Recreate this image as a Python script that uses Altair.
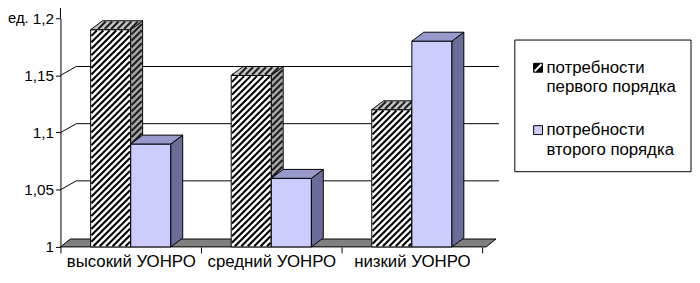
import json
import numpy as np
import pandas as pd
import altair as alt

# ---------------- data ----------------
categories = ["высокий УОНРО", "средний УОНРО", "низкий УОНРО"]
series = ["потребности первого порядка", "потребности второго порядка"]
first_order = [1.19, 1.15, 1.12]
second_order = [1.09, 1.06, 1.18]
y_ticks = [1.0, 1.05, 1.1, 1.15, 1.2]
grid_values = [1.05, 1.1, 1.15]
unit_label = "ед."

# ---------------- layout / style ----------------
W, H = 443, 231
PAD = {"left": 53, "right": 195, "top": 9, "bottom": 27}
PL, PT = 8 + PAD["left"], 8 + PAD["top"]   # plot origin on the page
X0 = -0.5
X1 = X0 + W / 142.0
Y0, Y1 = 1.0, 1.2
PXX = W / (X1 - X0)
PXY = H / (Y1 - Y0)
FONT = "Liberation Sans"
FS_NUM = 15.5
FS_TXT = 17

BAR_W = 40.5 / PXX          # bar width in x units
BDX, BDY = 12.0, 9.0        # bar depth (px)
WDX, WDY = 16.0, 9.0        # wall offset (px)
FDX, FDY = 10.0, 8.0        # floor depth (px)
HATCH_STEP = 6.5
HATCH_W = 2.1

COL_H_FRONT, COL_H_SIDE, COL_H_TOP = "#ffffff", "#a8a8a8", "#c4c4c4"
COL_H_STRIPE_FRONT, COL_H_STRIPE_SIDE = "#000000", "#1e1e1e"
COL_B_FRONT, COL_B_SIDE, COL_B_TOP = "#ccccff", "#6c6c99", "#9999cc"
COL_FLOOR = "#808080"


def to_x(X):
    return X / PXX + X0


def to_y(Y):
    return Y / PXY + Y0


def px_x(x):
    return (x - X0) * PXX


def px_y(y):
    return (y - Y0) * PXY


def hatch(poly, step=HATCH_STEP, trim=1.0):
    xs_ = [p[0] for p in poly]
    ys_ = [p[1] for p in poly]
    cmin, cmax = min(ys_) - max(xs_), max(ys_) - min(xs_)
    segs = []
    for k in range(int(np.floor(cmin / step)) - 1, int(np.ceil(cmax / step)) + 2):
        c = k * step
        pts = []
        n = len(poly)
        for i in range(n):
            ax, ay = poly[i]
            bx, by = poly[(i + 1) % n]
            den = (by - ay) - (bx - ax)
            if abs(den) < 1e-12:
                continue
            u = (c - (ay - ax)) / den
            if -1e-9 <= u <= 1 + 1e-9:
                pts.append(ax + u * (bx - ax))
        if len(pts) < 2:
            continue
        s0, s1 = min(pts), max(pts)
        d = trim / np.sqrt(2)
        s0 += d
        s1 -= d
        if s1 - s0 < 0.3:
            continue
        segs.append((s0, s0 + c, s1, s1 + c))
    return segs


def bar_faces(prefix, vals, left_off, colors):
    front, side, top = [], [], []
    for i, v in enumerate(vals):
        bid = f"{prefix}{i}"
        xl = px_x(i + left_off)
        xr = px_x(i + left_off + BAR_W)
        t = px_y(v)
        front.append({"id": bid, "x": to_x(xl), "x2": to_x(xr), "y": Y0, "y2": v, "fill": colors[0]})
        side.append({"id": bid, "x": to_x(xr), "y": to_y(0), "y2": to_y(t), "fill": colors[1]})
        side.append({"id": bid, "x": to_x(xr + BDX), "y": to_y(BDY), "y2": to_y(t + BDY), "fill": colors[1]})
        top.append({"id": bid, "y": to_y(t), "x": to_x(xl), "x2": to_x(xr), "fill": colors[2]})
        top.append({"id": bid, "y": to_y(t + BDY), "x": to_x(xl + BDX), "x2": to_x(xr + BDX), "fill": colors[2]})
    return pd.DataFrame(front), pd.DataFrame(side), pd.DataFrame(top)


h_front, h_side, h_top = bar_faces("h", first_order, -BAR_W, (COL_H_FRONT, COL_H_SIDE, COL_H_TOP))
b_front, b_side, b_top = bar_faces("b", second_order, 0.0, (COL_B_FRONT, COL_B_SIDE, COL_B_TOP))

# hatch strokes for the first-order bars
stripes = []
for i, v in enumerate(first_order):
    xl = px_x(i - BAR_W)
    xr = px_x(i)
    t = px_y(v)
    faces = [
        ([(xl, 0), (xr, 0), (xr, t), (xl, t)], COL_H_STRIPE_FRONT),
        ([(xr, 0), (xr + BDX, BDY), (xr + BDX, t + BDY), (xr, t)], COL_H_STRIPE_SIDE),
        ([(xl, t), (xr, t), (xr + BDX, t + BDY), (xl + BDX, t + BDY)], COL_H_STRIPE_SIDE),
    ]
    for poly, col in faces:
        for (a, b, c, d) in hatch(poly):
            stripes.append({"x": to_x(a), "y": to_y(b), "x2": to_x(c), "y2": to_y(d), "col": col})
stripes = pd.DataFrame(stripes)

# back wall gridlines + connectors
grid = []
for v in grid_values:
    grid.append({"x": X0 + WDX / PXX, "x2": X1, "y": v + WDY / PXY, "y2": v + WDY / PXY})
    grid.append({"x": X0, "x2": X0 + WDX / PXX, "y": v, "y2": v + WDY / PXY})
grid.append({"x": X0, "x2": X0, "y": Y1, "y2": Y1 + 16 / PXY})
grid = pd.DataFrame(grid)

# floor
floor_right = 2.5 + 4 / PXX
floor = pd.DataFrame([
    {"y": Y0, "x": X0, "x2": floor_right},
    {"y": Y0 + FDY / PXY, "x": X0 + FDX / PXX, "x2": floor_right + FDX / PXX},
])

xs = alt.Scale(domain=[X0, X1], nice=False, zero=False)
ys = alt.Scale(domain=[Y0, Y1], nice=False, zero=False)

cats_js = json.dumps(categories + [""], ensure_ascii=False)
x_axis = alt.Axis(
    values=[-0.5, 0.5, 1.5, 2.5], title=None, grid=False, domain=False,
    ticks=True, tickSize=6, tickColor="black", labelOffset=PXX / 2,
    labelExpr=f"{cats_js}[round(datum.value + 0.5)]", labelFlush=False,
    labelOverlap=False, labelPadding=1, labelFont=FONT, labelFontSize=FS_TXT,
    labelColor="black", labelBound=False,
)
y_axis = alt.Axis(
    values=y_ticks, title=None, grid=False, domain=True, domainColor="black",
    ticks=True, tickSize=5, tickColor="black", format=".2~f",
    labelExpr="replace(datum.label, '.', ',')", labelPadding=2,
    labelFont=FONT, labelFontSize=FS_NUM, labelColor="black",
)


def X(field="x:Q", **kw):
    return alt.X(field, scale=xs, axis=x_axis, **kw)


def Y(field="y:Q", **kw):
    return alt.Y(field, scale=ys, axis=y_axis, **kw)


grid_layer = alt.Chart(grid).mark_rule(color="black", strokeWidth=1).encode(
    x=X(), x2="x2:Q", y=Y(), y2="y2:Q",
)

floor_layer = alt.Chart(floor).mark_area(
    orient="horizontal", fill=COL_FLOOR, stroke="black", strokeWidth=1
).encode(y=Y(), x=X(stack=None), x2="x2:Q")


def front_layer(df):
    return alt.Chart(df).mark_rect(stroke="black", strokeWidth=1).encode(
        x=X(), x2="x2:Q", y=Y(), y2="y2:Q",
        fill=alt.Fill("fill:N", scale=None, legend=None),
    )


def side_layer(df):
    return alt.Chart(df).mark_area(orient="vertical", stroke="black", strokeWidth=1).encode(
        x=X(), y=Y(stack=None), y2="y2:Q", detail="id:N",
        fill=alt.Fill("fill:N", scale=None, legend=None),
    )


def top_layer(df):
    return alt.Chart(df).mark_area(orient="horizontal", stroke="black", strokeWidth=1).encode(
        y=Y(), x=X(stack=None), x2="x2:Q", detail="id:N",
        fill=alt.Fill("fill:N", scale=None, legend=None),
    )


stripe_layer = alt.Chart(stripes).mark_rule(strokeWidth=HATCH_W, strokeCap="butt").encode(
    x=X(), x2="x2:Q", y=Y(), y2="y2:Q",
    stroke=alt.Stroke("col:N", scale=None, legend=None),
)

one = pd.DataFrame({"k": [0]})

# ---------- legend (drawn; page coordinates converted to plot coordinates) ----------
def gx(page_x):
    return page_x - PL


def gy(page_y):
    return page_y - PT


legend_box = alt.Chart(one).mark_rect(fill="white", stroke="black", strokeWidth=1).encode(
    x=alt.value(gx(520)), x2=alt.value(gx(698)), y=alt.value(gy(39)), y2=alt.value(gy(172))
)
SW_X0, SW_X1 = gx(539), gx(548)
sw1 = alt.Chart(one).mark_rect(fill="black", stroke="black", strokeWidth=1).encode(
    x=alt.value(SW_X0), x2=alt.value(SW_X1), y=alt.value(gy(62.5)), y2=alt.value(gy(71.5))
)
sw1_stripe = alt.Chart(one).mark_rule(color="white", strokeWidth=2).encode(
    x=alt.value(SW_X0 + 1), x2=alt.value(SW_X1 - 1), y=alt.value(gy(70.5)), y2=alt.value(gy(63.5))
)
sw2 = alt.Chart(one).mark_rect(fill=COL_B_FRONT, stroke="black", strokeWidth=1).encode(
    x=alt.value(SW_X0), x2=alt.value(SW_X1), y=alt.value(gy(125.5)), y2=alt.value(gy(134.5))
)
legend_texts = []
line_y = [(67, 86), (130, 150)]
for name, (ya, yb) in zip(series, line_y):
    l1, l2 = name.split(" ", 1)
    for txt, yy in ((l1, ya), (l2, yb)):
        legend_texts.append(
            alt.Chart(one).mark_text(
                align="left", baseline="middle", font=FONT, fontSize=FS_TXT, color="black"
            ).encode(x=alt.value(gx(552)), y=alt.value(gy(yy)), text=alt.value(txt))
        )

unit_text = alt.Chart(one).mark_text(
    align="left", baseline="middle", font=FONT, fontSize=15, color="black"
).encode(x=alt.value(gx(8)), y=alt.value(0), text=alt.value(unit_label))

chart = alt.layer(
    grid_layer,
    floor_layer,
    front_layer(h_front),
    side_layer(h_side),
    top_layer(h_top),
    stripe_layer,
    front_layer(b_front),
    side_layer(b_side),
    top_layer(b_top),
    legend_box, sw1, sw1_stripe, sw2,
    *legend_texts,
    unit_text,
).properties(
    width=W, height=H, padding=PAD, autosize="none", background="white"
).configure_view(stroke=None)

chart.save("out.html", embed_options={"renderer": "svg", "actions": False})
